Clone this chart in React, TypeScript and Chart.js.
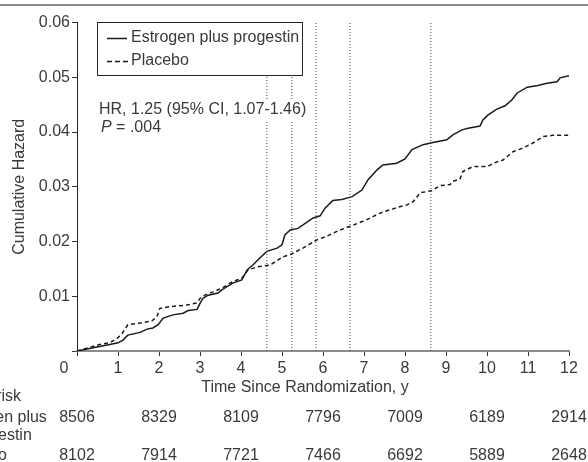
import React, { useEffect, useRef } from 'react';
import { Chart, registerables } from 'chart.js';

Chart.register(...registerables);

// ---- Data ----
const estrogenTimes = [0, 0.8, 1.0, 1.12, 1.24, 1.54, 1.71, 1.85, 1.98, 2.1, 2.34, 2.59, 2.71, 2.93, 3.0, 3.07, 3.2, 3.44, 3.54, 3.8, 4.02, 4.15, 4.29, 4.46, 4.63, 4.88, 5.0, 5.07, 5.2, 5.39, 5.76, 5.93, 6.05, 6.24, 6.46, 6.71, 6.95, 7.1, 7.32, 7.46, 7.8, 8.0, 8.17, 8.44, 8.68, 9.02, 9.17, 9.39, 9.54, 9.83, 9.9, 10.02, 10.24, 10.44, 10.61, 10.73, 10.98, 11.24, 11.46, 11.71, 11.78, 12.0];
const estrogenHazard = [0, 0.0012, 0.0015, 0.002, 0.0029, 0.0034, 0.004, 0.0042, 0.0048, 0.006, 0.0066, 0.0069, 0.0074, 0.0076, 0.0087, 0.0096, 0.0102, 0.0106, 0.0112, 0.0124, 0.013, 0.0148, 0.0157, 0.017, 0.0182, 0.0188, 0.0194, 0.0212, 0.0221, 0.0224, 0.0243, 0.0247, 0.0261, 0.0275, 0.0277, 0.0282, 0.0294, 0.0313, 0.0331, 0.034, 0.0343, 0.0351, 0.0368, 0.0377, 0.0381, 0.0386, 0.0395, 0.0404, 0.0407, 0.0411, 0.0422, 0.0431, 0.0442, 0.0448, 0.0459, 0.0471, 0.0482, 0.0485, 0.0489, 0.0492, 0.0499, 0.0503];

const placeboTimes = [0, 0.56, 0.8, 0.98, 1.1, 1.24, 1.54, 1.83, 1.95, 2.02, 2.27, 2.68, 2.93, 3.0, 3.12, 3.32, 3.54, 3.8, 4.02, 4.17, 4.41, 4.71, 5.02, 5.2, 5.51, 5.85, 6.1, 6.41, 6.71, 7.07, 7.39, 7.8, 8.05, 8.2, 8.37, 8.66, 8.85, 9.1, 9.17, 9.34, 9.41, 9.66, 10.02, 10.15, 10.39, 10.49, 10.63, 10.88, 11.12, 11.37, 11.61, 12.0];
const placeboHazard = [0, 0.0012, 0.0015, 0.0023, 0.0032, 0.0048, 0.0051, 0.0055, 0.0063, 0.0078, 0.0081, 0.0084, 0.0088, 0.0096, 0.0102, 0.0108, 0.0115, 0.0127, 0.0133, 0.0148, 0.0154, 0.0157, 0.0172, 0.0176, 0.0188, 0.0203, 0.021, 0.0221, 0.0229, 0.024, 0.0252, 0.0262, 0.0267, 0.0273, 0.0289, 0.0293, 0.0302, 0.0304, 0.031, 0.0314, 0.0328, 0.0337, 0.0337, 0.0343, 0.0349, 0.0355, 0.0364, 0.0371, 0.038, 0.0392, 0.0394, 0.0394];

const markerYears = [4.63, 5.24, 5.83, 6.66, 8.63];

const riskYears = [0, 2, 4, 6, 8, 10, 12];
const riskEstrogen = [8506, 8329, 8109, 7796, 7009, 6189, 2914];
const riskPlacebo = [8102, 7914, 7721, 7466, 6692, 5889, 2648];

const seriesLabels = ['Estrogen plus progestin', 'Placebo'];
const riskRowLabels = ['No. at risk', 'Estrogen plus', 'progestin', 'Placebo'];
const hrLabel = 'HR, 1.25 (95% CI, 1.07-1.46)';
const pLabel = ' = .004';
const xTitle = 'Time Since Randomization, y';
const yTitle = 'Cumulative Hazard';

const FONT = '"Liberation Sans", Arial, Helvetica, sans-serif';
const TEXT = '#3a3a3a';
const LINE = '#1a1a1a';

const overlay = {
  id: 'overlay',
  afterDraw(chart: any) {
    const { ctx, scales } = chart;
    const xs = scales.x;
    ctx.save();
    // top rule
    ctx.strokeStyle = '#8c8c8c';
    ctx.lineWidth = 2;
    ctx.beginPath();
    ctx.moveTo(0, 5);
    ctx.lineTo(chart.width, 5);
    ctx.stroke();

    // legend box
    ctx.fillStyle = '#ffffff';
    ctx.fillRect(97, 22, 206, 54);
    ctx.strokeStyle = '#222';
    ctx.lineWidth = 1;
    ctx.strokeRect(97.5, 22.5, 205, 53);
    ctx.strokeStyle = LINE;
    ctx.lineWidth = 1.5;
    ctx.beginPath();
    ctx.moveTo(107, 38.5);
    ctx.lineTo(127, 38.5);
    ctx.stroke();
    ctx.setLineDash([5, 3]);
    ctx.beginPath();
    ctx.moveTo(107, 61.5);
    ctx.lineTo(129, 61.5);
    ctx.stroke();
    ctx.setLineDash([]);
    ctx.font = `16px ${FONT}`;
    ctx.fillStyle = TEXT;
    ctx.textBaseline = 'middle';
    ctx.textAlign = 'left';
    ctx.fillText(seriesLabels[0], 131, 38);
    ctx.fillText(seriesLabels[1], 131, 61);

    // HR annotation
    ctx.fillStyle = '#ffffff';
    ctx.fillRect(96, 100, 214, 21);
    ctx.fillStyle = TEXT;
    ctx.fillText(hrLabel, 99, 110);
    ctx.font = `italic 16px ${FONT}`;
    ctx.fillText('P', 101, 128);
    const pw = ctx.measureText('P').width;
    ctx.font = `16px ${FONT}`;
    ctx.fillText(pLabel, 101 + pw, 128);

    // corner zero
    ctx.textAlign = 'center';
    ctx.fillText('0', 64, 369);

    // x title
    ctx.fillText(xTitle, 305, 388);

    // risk table
    ctx.textAlign = 'left';
    ctx.fillText(riskRowLabels[0], -51, 397);
    ctx.fillText(riskRowLabels[1], -51, 418);
    ctx.fillText(riskRowLabels[2], -34, 436);
    ctx.fillText(riskRowLabels[3], -51, 456);
    ctx.textAlign = 'center';
    riskYears.forEach((yr, i) => {
      const px = xs.getPixelForValue(yr);
      ctx.fillText(String(riskEstrogen[i]), px, 418);
      ctx.fillText(String(riskPlacebo[i]), px, 456);
    });
    ctx.restore();
  },
};

export default function App() {
  const ref = useRef<HTMLCanvasElement | null>(null);
  useEffect(() => {
    if (!ref.current) return;
    const markerSets = markerYears.map((yr) => ({
      label: 'm' + yr,
      data: [{ x: yr, y: 0 }, { x: yr, y: 0.06 }],
      borderColor: '#444',
      borderWidth: 1,
      borderDash: [1, 2],
      pointRadius: 0,
      fill: false,
    }));
    const chart = new Chart(ref.current, {
      type: 'line',
      data: {
        datasets: [
          ...markerSets,
          {
            label: seriesLabels[0],
            data: estrogenTimes.map((t, i) => ({ x: t, y: estrogenHazard[i] })),
            borderColor: LINE,
            borderWidth: 1.5,
            pointRadius: 0,
            tension: 0,
            fill: false,
          },
          {
            label: seriesLabels[1],
            data: placeboTimes.map((t, i) => ({ x: t, y: placeboHazard[i] })),
            borderColor: LINE,
            borderWidth: 1.5,
            borderDash: [4, 3],
            pointRadius: 0,
            tension: 0,
            fill: false,
          },
        ],
      },
      options: {
        responsive: false,
        animation: false,
        devicePixelRatio: 1,
        layout: { padding: { top: 22.6, right: 19, left: 0, bottom: 0 } },
        plugins: { legend: { display: false }, tooltip: { enabled: false } },
        scales: {
          x: {
            type: 'linear',
            min: 0,
            max: 12,
            afterFit: (s: any) => { s.height = 111; },
            ticks: {
              stepSize: 1,
              autoSkip: false,
              maxRotation: 0,
              padding: 3,
              color: TEXT,
              font: { family: FONT, size: 16 },
              callback: (v: any) => (Number(v) === 0 ? '' : String(v)),
            },
            grid: { drawOnChartArea: false, drawTicks: true, tickLength: 5, tickColor: '#333', tickWidth: 1 },
            border: { display: true, color: '#8c8c8c', width: 2 },
          },
          y: {
            type: 'linear',
            min: 0,
            max: 0.06,
            afterFit: (s: any) => { s.width = 77; },
            ticks: {
              stepSize: 0.01,
              padding: 2,
              color: TEXT,
              font: { family: FONT, size: 16 },
              callback: (v: any) => (Number(v) === 0 ? '' : Number(v).toFixed(2)),
            },
            grid: { drawOnChartArea: false, drawTicks: true, tickLength: 5, tickColor: '#333', tickWidth: 1 },
            border: { display: true, color: '#222', width: 1 },
            title: {
              display: true,
              text: yTitle,
              color: TEXT,
              font: { family: FONT, size: 16 },
              padding: { top: 10, bottom: 0 },
            },
          },
        },
      },
      plugins: [overlay],
    } as any);
    return () => chart.destroy();
  }, []);
  return (
    <div style={{ position: 'absolute', left: 0, top: 0, width: 588, height: 462, background: '#fff' }}>
      <canvas ref={ref} width={588} height={462} style={{ display: 'block' }} />
    </div>
  );
}
